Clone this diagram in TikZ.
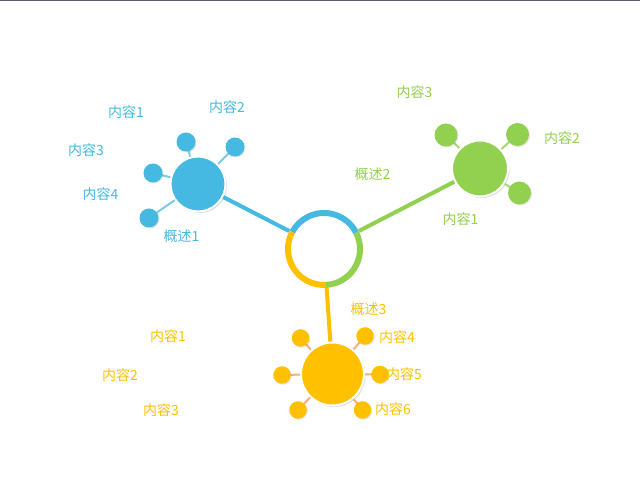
\documentclass[tikz,border=0pt]{standalone}
\usepackage{fontspec}
\newfontfamily\cjk{Noto Sans CJK SC}
\usetikzlibrary{shadows}
\definecolor{SkyBlue}{HTML}{45B9E1}
\definecolor{LeafGreen}{HTML}{92D050}
\definecolor{Amber}{HTML}{FFC000}
\definecolor{SkySpoke}{HTML}{7CCAEA}
\definecolor{LeafSpoke}{HTML}{A6D878}
\definecolor{AmberSpoke}{HTML}{F5AE7C}
\definecolor{TopBar}{HTML}{5B5E6A}

\begin{document}
\begin{tikzpicture}[x=1pt,y=1pt,
    hubring/.style={circle,minimum size=78pt,inner sep=0pt},
    bigdot/.style={circle,fill=#1,draw=white,line width=2pt,inner sep=0pt,
      drop shadow={shadow xshift=1.5pt,shadow yshift=-1.5pt,opacity=0.3}},
    smalldot/.style={circle,fill=#1,inner sep=0pt,
      drop shadow={shadow xshift=1pt,shadow yshift=-1pt,opacity=0.2}},
    lbl/.style={text=#1,inner sep=0pt,font=\cjk\fontsize{14}{16}\selectfont}]
  \useasboundingbox (0,0) rectangle (640,481);
  \fill[TopBar] (0,479.5) rectangle (640,481);

  % hub and the three topics
  \node[hubring] (hub) at (324,232) {};
  \node[bigdot=SkyBlue,minimum size=55pt] (b1) at (198,297) {};
  \node[bigdot=LeafGreen,minimum size=56pt] (b2) at (480,312.5) {};
  \node[bigdot=Amber,minimum size=63pt] (b3) at (332.5,107) {};

  \draw[SkyBlue,line width=4pt] (hub) -- (b1);
  \draw[LeafGreen,line width=4pt] (hub) -- (b2);
  \draw[Amber,line width=4pt] (hub) -- (b3);

  \draw[SkyBlue,line width=6pt] ([shift={(27:36)}]hub.center)
    arc[start angle=27,end angle=152,radius=36];
  \draw[Amber,line width=6pt] ([shift={(152:36)}]hub.center)
    arc[start angle=152,end angle=273,radius=36];
  \draw[LeafGreen,line width=6pt] ([shift={(273:36)}]hub.center)
    arc[start angle=273,end angle=387,radius=36];

  % small dots
  \foreach \x/\y/\n in {186/339/s11,235/334/s12,153/308/s13,149/263/s14} {
    \draw[SkySpoke,line width=2pt] (b1) -- (\x,\y);
    \node[smalldot=SkyBlue,minimum size=19pt] (\n) at (\x,\y) {};
  }
  \foreach \x/\y/\n in {446/346/s21,517.5/346.5/s22,519.5/288/s23} {
    \draw[LeafSpoke,line width=2pt] (b2) -- (\x,\y);
    \node[smalldot=LeafGreen,minimum size=23pt] (\n) at (\x,\y) {};
  }
  \foreach \x/\y/\n in {300.5/143/s31,365/145/s32,282/106/s33,
    380/106.5/s34,298/71/s35,362.5/71/s36} {
    \draw[AmberSpoke,line width=2pt] (b3) -- (\x,\y);
    \node[smalldot=Amber,minimum size=17.5pt] (\n) at (\x,\y) {};
  }

  % labels
  \foreach \x/\y/\t/\n in {126/369/内容1/t11,227/374/内容2/t12,
    86/331/内容3/t13,100.5/287/内容4/t14,181.5/244.5/概述1/t10}
    \node[lbl=SkyBlue] (\n) at (\x,\y) {\t};
  \foreach \x/\y/\t/\n in {414.5/388.5/内容3/t23,562/342.5/内容2/t22,
    460.5/262/内容1/t21,372.5/307/概述2/t20}
    \node[lbl=LeafGreen] (\n) at (\x,\y) {\t};
  \foreach \x/\y/\t/\n in {168/145/内容1/t31,120/105.5/内容2/t32,
    161/71/内容3/t33,397/144/内容4/t34,404/106.5/内容5/t35,
    393/71.5/内容6/t36,368.5/171.5/概述3/t30}
    \node[lbl=Amber] (\n) at (\x,\y) {\t};
\end{tikzpicture}
\end{document}
